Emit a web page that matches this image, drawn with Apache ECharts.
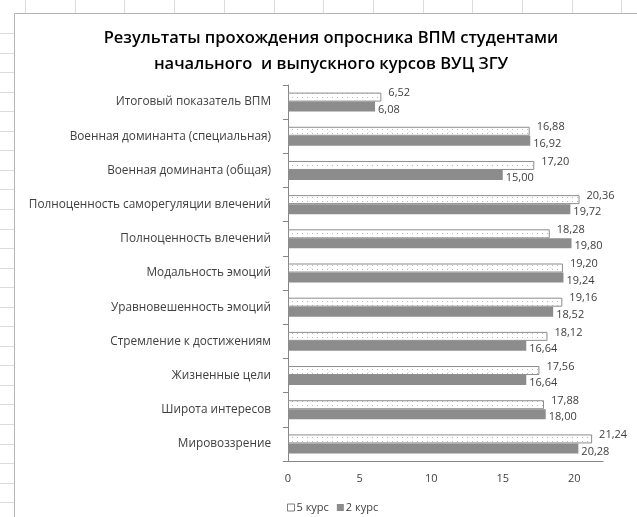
<!DOCTYPE html>
<html>
<head>
<meta charset="utf-8">
<script src="https://cdn.jsdelivr.net/npm/echarts@6/dist/echarts.min.js"></script>
<style>
  html, body { margin: 0; padding: 0; background: #fff; }
  #chart { width: 637px; height: 517px; }
</style>
</head>
<body>
<div id="chart"></div>
<script>
// Scale names, listed top to bottom
const categories = [
  'Итоговый показатель ВПМ',
  'Военная доминанта (специальная)',
  'Военная доминанта (общая)',
  'Полноценность саморегуляции влечений',
  'Полноценность влечений',
  'Модальность эмоций',
  'Уравновешенность эмоций',
  'Стремление к достижениям',
  'Жизненные цели',
  'Широта интересов',
  'Мировоззрение'
];
const course5 = [6.52, 16.88, 17.20, 20.36, 18.28, 19.20, 19.16, 18.12, 17.56, 17.88, 21.24];
const course2 = [6.08, 16.92, 15.00, 19.72, 19.80, 19.24, 18.52, 16.64, 16.64, 18.00, 20.28];
const xTicks = [0, 5, 10, 15, 20];

const titleLines = ['Результаты прохождения опросника ВПМ студентами', 'начального  и выпускного курсов ВУЦ ЗГУ'];

// Dotted fill for the "5 курс" bars
function dotPattern() {
  const c = document.createElement('canvas');
  c.width = 5; c.height = 4;
  const g = c.getContext('2d');
  g.fillStyle = '#ffffff';
  g.fillRect(0, 0, 5, 4);
  g.fillStyle = '#b8b8b8';
  g.fillRect(2, 1, 1, 1);
  return c;
}

const fmt = v => v.toFixed(2).replace('.', ',');

// Worksheet cell lines around the chart frame
const sheet = [];
for (let x = 25; x < 637; x += 49.7) {
  sheet.push({ type: 'line', shape: { x1: Math.round(x) + 0.5, y1: 0, x2: Math.round(x) + 0.5, y2: 13 }, style: { stroke: '#dcdcdc', lineWidth: 1 }, silent: true });
}
for (let y = 33; y < 517; y += 19.55) {
  sheet.push({ type: 'line', shape: { x1: 0, y1: Math.round(y) + 0.5, x2: 14, y2: Math.round(y) + 0.5 }, style: { stroke: '#dcdcdc', lineWidth: 1 }, silent: true });
}
sheet.push({ type: 'line', shape: { x1: 14.5, y1: 13.5, x2: 637, y2: 13.5 }, style: { stroke: '#b5b5b5', lineWidth: 1 }, silent: true });
sheet.push({ type: 'line', shape: { x1: 14.5, y1: 13.5, x2: 14.5, y2: 517 }, style: { stroke: '#b5b5b5', lineWidth: 1 }, silent: true });

const chart = echarts.init(document.getElementById('chart'), null, { renderer: 'canvas' });
chart.setOption({
  animation: false,
  backgroundColor: '#ffffff',
  textStyle: { fontFamily: 'Open Sans' },
  graphic: sheet,
  title: {
    text: titleLines.join('\n'),
    left: 326,
    textAlign: 'center',
    top: 20,
    textStyle: { fontFamily: 'Open Sans', fontSize: 16.5, fontWeight: 600, color: '#000', lineHeight: 26 }
  },
  legend: {
    left: 282,
    top: 497,
    icon: 'rect',
    itemWidth: 7,
    itemHeight: 7,
    itemGap: 8,
    textStyle: { fontSize: 11, color: '#404040', padding: [0, 0, 0, -3] },
    data: [
      { name: '5 курс', itemStyle: { color: '#ffffff', borderColor: '#7f7f7f', borderWidth: 1 } },
      { name: '2 курс', itemStyle: { color: '#8c8c8c', borderWidth: 0 } }
    ]
  },
  grid: { left: 288, right: 34, top: 85, bottom: 56, containLabel: false },
  xAxis: {
    type: 'value',
    min: 0,
    max: 22,
    interval: 5,
    splitLine: { show: false },
    axisLine: { show: true, lineStyle: { color: '#868686' } },
    axisTick: { show: false },
    axisLabel: { showMaxLabel: false, fontSize: 11, color: '#404040', margin: 12 }
  },
  yAxis: {
    type: 'category',
    data: categories,
    inverse: true,
    axisLine: { show: true, lineStyle: { color: '#868686' } },
    axisTick: { show: true, length: 5, lineStyle: { color: '#868686' } },
    axisLabel: { fontSize: 11.8, color: '#404040', margin: 17 }
  },
  series: [
    {
      name: '5 курс',
      type: 'bar',
      data: course5,
      barWidth: 9,
      barGap: '0%',
      itemStyle: { color: { image: dotPattern(), repeat: 'repeat' }, borderColor: '#8c8c8c', borderWidth: 1 },
      label: { show: true, position: 'right', distance: 5, offset: [2, -4], fontSize: 11, color: '#404040', formatter: p => fmt(p.value) }
    },
    {
      name: '2 курс',
      type: 'bar',
      data: course2,
      barWidth: 10,
      itemStyle: { color: '#8c8c8c' },
      label: { show: true, position: 'right', distance: 3, offset: [0, 3], fontSize: 11, color: '#404040', formatter: p => fmt(p.value) }
    }
  ]
});
</script>
</body>
</html>
